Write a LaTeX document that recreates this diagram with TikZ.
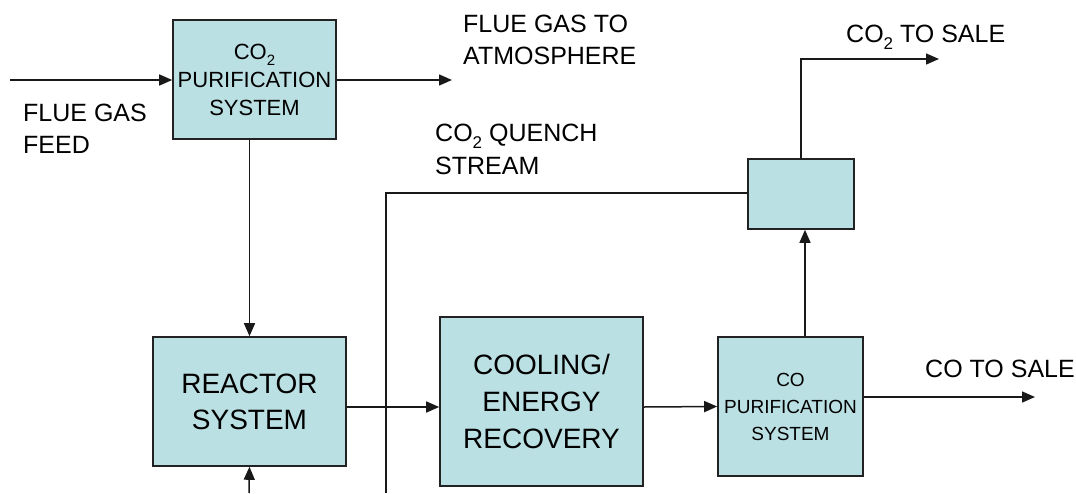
\documentclass[tikz,border=0pt]{standalone}
\usepackage{fontspec}
\setmainfont{Liberation Sans}
\usetikzlibrary{arrows.meta,calc}
\definecolor{boxfill}{HTML}{BBE0E3}
\definecolor{boxline}{HTML}{222222}
\newcommand\lowtwo{\raisebox{-0.28em}{\scalebox{0.68}{2}}}
\begin{document}
\begin{tikzpicture}[x=1pt,y=-1pt,
  unit/.style={draw=boxline,line width=1.6pt,fill=boxfill,inner sep=0pt,align=center},
  flow/.style={line width=1.5pt,draw=black!90},
  arr/.style={flow,-{Triangle[length=13pt,width=11pt]}},
  lbl/.style={anchor=base west,inner sep=0pt,align=left,font=\fontsize{25}{32}\selectfont}
]
\useasboundingbox (0,0) rectangle (1076,493);
% boxes
\node[unit,minimum width=163pt,minimum height=119pt,font=\fontsize{22}{28}\selectfont] (pur) at (254.5,79.5) {CO\lowtwo\\PURIFICATION\\SYSTEM};
\node[unit,minimum width=193pt,minimum height=129pt,font=\fontsize{28}{36}\selectfont] (reac) at (249.5,401.5) {REACTOR\\SYSTEM};
\node[unit,minimum width=203pt,minimum height=169pt,font=\fontsize{28}{37}\selectfont] (cool) at (541.5,401.5) {COOLING/\\ENERGY\\RECOVERY};
\node[unit,minimum width=145pt,minimum height=139pt,font=\fontsize{19}{27}\selectfont] (copur) at (790.5,406.5) {CO\\PURIFICATION\\SYSTEM};
\node[unit,minimum width=106pt,minimum height=70pt] (small) at (801,194) {};
% free ends
\coordinate (feedin) at (10,80);
\coordinate (atm) at (452,80);
\coordinate (bottomin) at (249,493);
\coordinate (qbend) at (386,193);
\coordinate (qend) at (386,493);
\coordinate (co2bend) at (801,59);
\coordinate (co2out) at (939,59);
\coordinate (coout) at (1035,397);
% connectors
\draw[arr] (feedin) -- (feedin -| pur.west);
\draw[arr] (pur.east |- atm) -- (atm);
\draw[arr] (reac.north |- pur.south) -- (reac.north);
\draw[arr] (bottomin) -- (reac.south);
\draw[arr] ($(reac.east)+(0,5.5)$) -- ($(cool.west)+(0,5.5)$);
\draw[arr] ($(cool.east)+(0,5.5)$) -- (copur.west);
\draw[arr] (copur.east |- coout) -- (coout);
\draw[arr] ($(copur.north)+(14.5,0)$) -- ($(small.south)+(4,0)$);
\draw[arr] (small.north) -- (co2bend) -- (co2out);
\draw[flow] (small.west |- qbend) -- (qbend) -- (qend);
% labels (base = baseline of last line)
\node[lbl] (lfeed) at (23,153) {FLUE GAS\\FEED};
\node[lbl] (latm) at (463,64) {FLUE GAS TO\\ATMOSPHERE};
\node[lbl,font=\fontsize{25}{33}\selectfont] (lquench) at (435,174) {CO\lowtwo{} QUENCH\\STREAM};
\node[lbl] (lco2) at (846,42) {CO\lowtwo{} TO SALE};
\node[lbl] (lco) at (925,377) {CO TO SALE};
\end{tikzpicture}
\end{document}
